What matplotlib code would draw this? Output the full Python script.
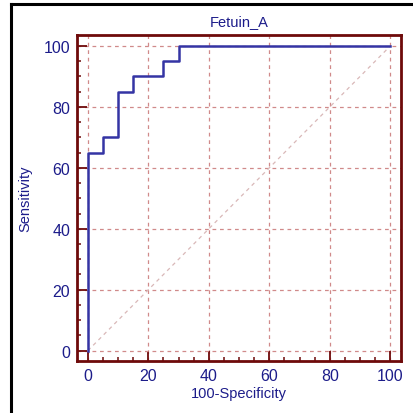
import matplotlib.pyplot as plt
from matplotlib.lines import Line2D
from matplotlib.ticker import MultipleLocator

plt.rcParams['font.family'] = ['Liberation Sans', 'DejaVu Sans']

# ROC points (100-Specificity, Sensitivity)
spec_100 = [0, 0, 5, 10, 15, 25, 30, 100]
sens = [0, 65, 70, 85, 90, 95, 100, 100]
ticks = [0, 20, 40, 60, 80, 100]
titre = "Fetuin_A"

bleu = '#3434a4'
texte = '#1c1c8a'
rouge = '#6e0a0a'

fig = plt.figure(figsize=(4.14, 4.14), dpi=100)
ax = fig.add_axes([0.186, 0.1256, 0.783, 0.7874])

# cadre noir extérieur
fig.add_artist(Line2D([11/414, 11/414], [0, 1 - 5/414], color='black', lw=2.2))
fig.add_artist(Line2D([11/414, 1], [1 - 5/414, 1 - 5/414], color='black', lw=2.2))

ax.set_xlim(-3.6, 103.6)
ax.set_ylim(-3.4, 103.6)

ax.grid(True, which='major', color='#d08a8a', linestyle=(0, (3, 3)), linewidth=0.9)
ax.plot([0, 100], [0, 100], color='#d9b8b8', linestyle=(0, (3, 3)), linewidth=0.9)
ax.plot(spec_100, sens, drawstyle='steps-post', color=bleu, linewidth=1.8)

ax.set_xticks(ticks)
ax.set_yticks(ticks)
ax.xaxis.set_minor_locator(MultipleLocator(5))
ax.yaxis.set_minor_locator(MultipleLocator(5))
ax.tick_params(which='major', direction='in', length=7.5, width=1.3, color=rouge,
               labelcolor=texte, labelsize=11.5, pad=5)
ax.tick_params(which='minor', direction='in', length=3.2, width=1.1, color=rouge)

for s in ax.spines.values():
    s.set_color(rouge)
    s.set_linewidth(2)

ax.set_title(titre, color=texte, fontsize=10.5, pad=7)
ax.set_xlabel("100-Specificity", color=texte, fontsize=10.5, labelpad=2)
ax.set_ylabel("Sensitivity", color=texte, fontsize=10.5, labelpad=8)

fig.savefig("out.png", dpi=100)
